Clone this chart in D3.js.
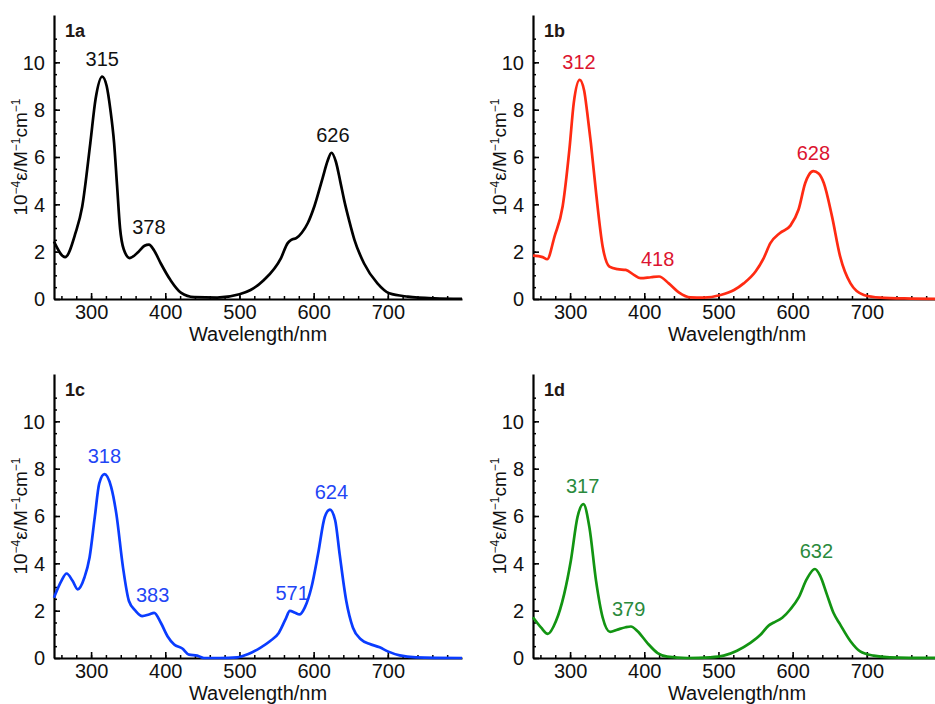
<!DOCTYPE html>
<html>
<head>
<meta charset="utf-8">
<script src="https://cdn.jsdelivr.net/npm/d3@7"></script>
<style>
  body { margin: 0; background: #fff; }
  svg text { font-family: "Liberation Sans", Arial, Helvetica, sans-serif; }
</style>
</head>
<body>
<svg id="chart" width="935" height="704"></svg>
<script>
// 1a
var wlA  = [250, 265, 279, 288, 299, 306, 315, 321, 326, 331, 335, 339, 344, 352, 364, 372, 378, 385, 394, 407, 421, 439, 470, 500, 515, 533, 556, 565, 570, 577, 584, 592, 601, 612, 619, 624, 630, 636, 641, 648, 655, 668, 686, 702, 727, 763, 800];
var epsA = [2.43, 1.77, 2.79, 3.9, 6.6, 8.44, 9.4, 9.0, 8.0, 6.6, 4.8, 3.0, 2.1, 1.73, 2.0, 2.25, 2.3, 2.05, 1.5, 0.8, 0.27, 0.08, 0.06, 0.2, 0.38, 0.8, 1.73, 2.36, 2.5, 2.58, 2.8, 3.2, 3.92, 5.1, 5.85, 6.18, 5.8, 4.95, 4.2, 3.3, 2.5, 1.5, 0.66, 0.24, 0.1, 0.03, 0.01];
var peaksA = [315, 378, 626];

// 1b
var wlB  = [250, 263, 269, 279, 290, 299, 305, 313, 319, 323, 328, 335, 344, 353, 364, 375, 386, 395, 409, 420, 433, 447, 462, 480, 503, 521, 534, 550, 561, 570, 583, 597, 608, 617, 622, 628, 635, 642, 653, 664, 678, 696, 718, 760, 800];
var epsB = [1.83, 1.77, 1.68, 2.64, 3.92, 6.3, 8.3, 9.26, 8.8, 7.9, 6.6, 4.5, 2.2, 1.37, 1.26, 1.23, 1.02, 0.88, 0.92, 0.95, 0.66, 0.27, 0.07, 0.06, 0.17, 0.38, 0.66, 1.16, 1.73, 2.36, 2.79, 3.1, 3.78, 4.9, 5.25, 5.4, 5.3, 4.9, 3.5, 1.8, 0.66, 0.17, 0.06, 0.02, 0.0];
var peaksB = [312, 418, 628];

// 1c
var wlC  = [250, 260, 267, 275, 282, 291, 298, 305, 311, 318, 327, 334, 343, 351, 360, 369, 378, 385, 394, 403, 412, 423, 432, 443, 452, 474, 497, 512, 528, 541, 553, 562, 568, 575, 581, 588, 597, 606, 615, 622, 629, 635, 644, 653, 664, 675, 689, 700, 716, 738, 800];
var epsC = [2.55, 3.26, 3.57, 3.26, 2.9, 3.4, 4.26, 5.96, 7.38, 7.77, 7.23, 6.1, 3.83, 2.41, 1.99, 1.77, 1.84, 1.91, 1.49, 0.92, 0.57, 0.4, 0.14, 0.1, 0.0, 0.0, 0.03, 0.17, 0.43, 0.71, 1.06, 1.63, 1.99, 1.91, 1.84, 2.13, 2.98, 4.4, 5.96, 6.27, 5.82, 4.4, 2.41, 1.28, 0.78, 0.6, 0.45, 0.28, 0.11, 0.03, 0.0];
var peaksC = [318, 383, 571, 624];

// 1d
var wlD  = [250, 261, 270, 281, 292, 301, 310, 318, 326, 335, 344, 354, 364, 375, 382, 391, 404, 418, 431, 458, 489, 507, 525, 543, 557, 568, 574, 586, 597, 608, 619, 630, 637, 646, 655, 664, 678, 691, 709, 731, 800];
var epsD = [1.72, 1.28, 1.02, 1.56, 2.7, 4.11, 5.96, 6.5, 5.53, 3.26, 1.7, 1.1, 1.2, 1.3, 1.33, 1.13, 0.64, 0.21, 0.06, 0.0, 0.03, 0.1, 0.31, 0.64, 0.99, 1.38, 1.49, 1.7, 2.06, 2.55, 3.33, 3.76, 3.48, 2.7, 1.91, 1.42, 0.71, 0.28, 0.1, 0.03, 0.0];
var peaksD = [317, 379, 632];

var xTicks = [300, 400, 500, 600, 700];
var yTicks = [0, 2, 4, 6, 8, 10];

var panels = [
  {name: "1a", wl: wlA, eps: epsA, peaks: peaksA, line: "#000000", text: "#111111", left: 54, top: 15},
  {name: "1b", wl: wlB, eps: epsB, peaks: peaksB, line: "#ff2a12", text: "#dc1430", left: 533, top: 15},
  {name: "1c", wl: wlC, eps: epsC, peaks: peaksC, line: "#0a3cff", text: "#1f45f5", left: 54, top: 374},
  {name: "1d", wl: wlD, eps: epsD, peaks: peaksD, line: "#129412", text: "#2a8a3c", left: 533, top: 374}
];

var W = 408, H = 284;
var svg = d3.select("#chart");

var x = d3.scaleLinear().domain([250, 800]).range([0, W]);
var y = d3.scaleLinear().domain([0, 12]).range([H, 0]);

var line = d3.line()
    .x(function(d){ return x(d[0]); })
    .y(function(d){ return y(d[1]); })
    .curve(d3.curveMonotoneX);

panels.forEach(function(p){
  var g = svg.append("g").attr("transform", "translate(" + p.left + "," + p.top + ")");

  // minor ticks first
  g.append("g")
      .attr("transform", "translate(0," + H + ")")
      .call(d3.axisBottom(x).tickValues(d3.range(260, 800, 20)).tickSize(-3).tickSizeOuter(0).tickFormat(""))
      .call(function(s){ s.select(".domain").remove(); s.selectAll("line").attr("stroke-width", 1.5); });
  g.append("g")
      .call(d3.axisLeft(y).tickValues(d3.range(0.5, 11.5, 0.5)).tickSize(-3).tickSizeOuter(0).tickFormat(""))
      .call(function(s){ s.select(".domain").remove(); s.selectAll("line").attr("stroke-width", 1.5); });

  var xa = g.append("g")
      .attr("transform", "translate(0," + H + ")")
      .call(d3.axisBottom(x).tickValues(xTicks).tickSize(-6).tickSizeOuter(0).tickPadding(6));
  var ya = g.append("g")
      .call(d3.axisLeft(y).tickValues(yTicks).tickSize(-6).tickSizeOuter(0).tickPadding(9));

  [xa, ya].forEach(function(a){
    a.attr("font-size", 20).attr("font-family", null);
    a.select(".domain").attr("stroke-width", 2.2);
    a.selectAll(".tick line").attr("stroke-width", 1.6);
    a.selectAll(".tick text").attr("fill", "#111");
  });
  ya.selectAll(".tick text").attr("dy", "0.34em");

  // spectrum
  var pts = d3.zip(p.wl, p.eps);
  g.append("path")
      .datum(pts)
      .attr("fill", "none")
      .attr("stroke", p.line)
      .attr("stroke-width", 2.7)
      .attr("stroke-linejoin", "round")
      .attr("d", line);

  // peak labels
  p.peaks.forEach(function(pk){
    var top = d3.max(pts.filter(function(d){ return Math.abs(d[0] - pk) <= 8; }), function(d){ return d[1]; });
    g.append("text")
        .attr("x", x(pk))
        .attr("y", y(top) - 11)
        .attr("text-anchor", "middle")
        .attr("font-size", 20)
        .attr("fill", p.text)
        .text(pk);
  });

  // panel name
  g.append("text")
      .attr("x", 11)
      .attr("y", 22)
      .attr("font-size", 18)
      .attr("font-weight", "bold")
      .attr("fill", "#231815")
      .text(p.name);

  // axis titles
  g.append("text")
      .attr("x", W / 2)
      .attr("y", H + 42)
      .attr("text-anchor", "middle")
      .attr("font-size", 20)
      .attr("fill", "#111")
      .text("Wavelength/nm");

  var yt = g.append("text")
      .attr("transform", "translate(-27," + (H / 2) + ") rotate(-90)")
      .attr("text-anchor", "middle")
      .attr("font-size", 19)
      .attr("fill", "#111");
  yt.append("tspan").text("10");
  yt.append("tspan").attr("font-size", 12).attr("dy", -7).text("\u22124");
  yt.append("tspan").attr("dy", 7).text("\u03b5/M");
  yt.append("tspan").attr("font-size", 12).attr("dy", -7).text("\u22121");
  yt.append("tspan").attr("dy", 7).text("cm");
  yt.append("tspan").attr("font-size", 12).attr("dy", -7).text("\u22121");
});
</script>
</body>
</html>
